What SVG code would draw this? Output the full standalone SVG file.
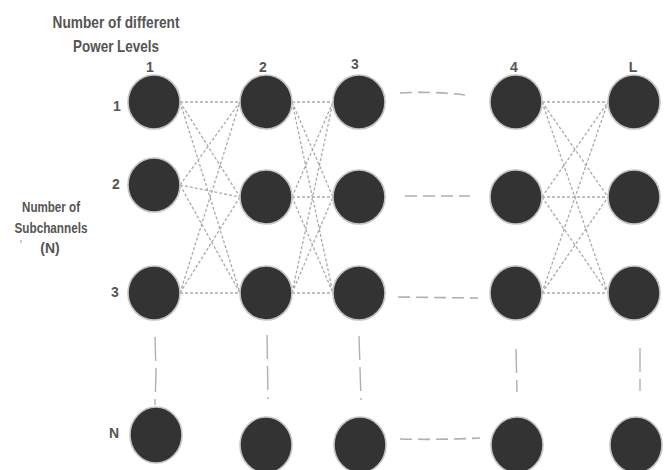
<svg xmlns="http://www.w3.org/2000/svg" width="668" height="470" viewBox="0 0 668 470">
<style>
.t{font-family:"Liberation Sans Narrow","Liberation Sans",Arial,sans-serif;font-weight:bold;fill:#555;}
.h{font-size:17px;text-anchor:middle;}
.s{font-size:14px;text-anchor:middle;}
.l{font-size:14px;text-anchor:middle;}
.n{fill:#333;stroke:#c4c4c4;stroke-width:1.6;}
.d{stroke:#aaa;stroke-width:1.3;stroke-dasharray:3 2;fill:none;}
.g{stroke:#b0b0b0;stroke-width:1.6;stroke-dasharray:12 6;fill:none;}
.v{stroke:#b0b0b0;stroke-width:1.4;stroke-dasharray:24 7;fill:none;}
</style>
<rect width="668" height="470" fill="#fff"/>
<g id="labels">
<text class="t h" x="116" y="28" textLength="127" lengthAdjust="spacingAndGlyphs">Number of different</text>
<text class="t h" x="116" y="52" textLength="86" lengthAdjust="spacingAndGlyphs">Power Levels</text>
<text class="t l" x="150" y="72">1</text>
<text class="t l" x="263" y="72">2</text>
<text class="t l" x="355" y="69">3</text>
<text class="t l" x="514" y="72">4</text>
<text class="t l" x="633" y="72">L</text>
<text class="t l" x="117" y="111">1</text>
<text class="t l" x="116" y="189">2</text>
<text class="t l" x="115" y="297">3</text>
<text class="t l" x="114" y="438">N</text>
<text class="t s" x="51" y="212" textLength="58" lengthAdjust="spacingAndGlyphs">Number of</text>
<text class="t s" x="51" y="233" textLength="73" lengthAdjust="spacingAndGlyphs">Subchannels</text>
<text class="t s" x="50" y="253">(N)</text>
<rect x="20.5" y="240" width="1" height="3" fill="#999"/>
</g>
<g id="connectors">
<path class="d" d="M180 102L240 102M180 102L240 197M180 102L240 293M180 185L240 102M180 185L240 197M180 185L240 293M180 293L240 102M180 293L240 197M180 293L240 293"/>
<path class="d" d="M292 102L333 102M292 102L333 197M292 102L333 293M292 197L333 102M292 197L333 197M292 197L333 293M292 293L333 102M292 293L333 197M292 293L333 293"/>
<path class="d" d="M542 102L608 102M542 102L608 197M542 102L608 293M542 197L608 102M542 197L608 197M542 197L608 293M542 293L608 102M542 293L608 197M542 293L608 293"/>
<path class="g" d="M400 93Q432 91 465 95"/>
<path class="g" d="M405 196L470 196"/>
<path class="g" d="M398 297L478 298"/>
<path class="g" d="M400 439Q440 440 480 438"/>
<path class="v" d="M155 337L156 373L155 405"/>
<path class="v" d="M267 335L268 399"/>
<path class="v" d="M359 336L361 400"/>
<path class="v" d="M516 349L517 392"/>
<path class="v" d="M640 348L640 391"/>
</g>
<g id="n-1-1"><ellipse class="n" cx="154" cy="102" rx="26" ry="27"/></g>
<g id="n-1-2"><ellipse class="n" cx="154" cy="185" rx="26" ry="27"/></g>
<g id="n-1-3"><ellipse class="n" cx="154" cy="293" rx="26" ry="27"/></g>
<g id="n-1-N"><ellipse class="n" cx="156" cy="435" rx="26" ry="28"/></g>
<g id="n-2-1"><ellipse class="n" cx="266" cy="102" rx="26" ry="27"/></g>
<g id="n-2-2"><ellipse class="n" cx="266" cy="197" rx="26" ry="27"/></g>
<g id="n-2-3"><ellipse class="n" cx="266" cy="293" rx="26" ry="27"/></g>
<g id="n-2-N"><ellipse class="n" cx="266" cy="445" rx="26" ry="28"/></g>
<g id="n-3-1"><ellipse class="n" cx="359" cy="102" rx="26" ry="27"/></g>
<g id="n-3-2"><ellipse class="n" cx="359" cy="197" rx="26" ry="27"/></g>
<g id="n-3-3"><ellipse class="n" cx="359" cy="293" rx="26" ry="27"/></g>
<g id="n-3-N"><ellipse class="n" cx="360" cy="445" rx="26" ry="28"/></g>
<g id="n-4-1"><ellipse class="n" cx="516" cy="102" rx="26" ry="27"/></g>
<g id="n-4-2"><ellipse class="n" cx="516" cy="197" rx="26" ry="27"/></g>
<g id="n-4-3"><ellipse class="n" cx="516" cy="293" rx="26" ry="27"/></g>
<g id="n-4-N"><ellipse class="n" cx="517" cy="445" rx="26" ry="28"/></g>
<g id="n-L-1"><ellipse class="n" cx="634" cy="102" rx="26" ry="27"/></g>
<g id="n-L-2"><ellipse class="n" cx="634" cy="197" rx="26" ry="27"/></g>
<g id="n-L-3"><ellipse class="n" cx="634" cy="293" rx="26" ry="27"/></g>
<g id="n-L-N"><ellipse class="n" cx="636" cy="445" rx="26" ry="28"/></g>
</svg>
